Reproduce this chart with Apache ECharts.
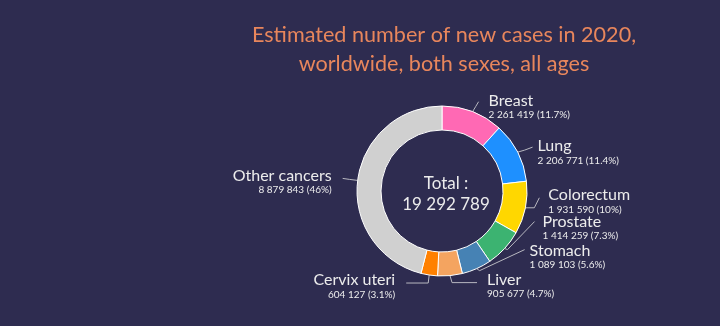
<!DOCTYPE html>
<html>
<head>
<meta charset="utf-8">
<script src="https://cdn.jsdelivr.net/npm/echarts@6/dist/echarts.min.js"></script>
<style>
  html, body { margin: 0; padding: 0; background: #2e2c50; }
  #chart { width: 720px; height: 326px; }
</style>
</head>
<body>
<div id="chart"></div>
<script>
// Estimated new cancer cases, 2020, worldwide
const categories = ['Breast', 'Lung', 'Colorectum', 'Prostate', 'Stomach', 'Liver', 'Cervix uteri', 'Other cancers'];
const cases = [2261419, 2206771, 1931590, 1414259, 1089103, 905677, 604127, 8879843];
const sliceColors = ['#ff69b4', '#1e90ff', '#ffd700', '#3cb371', '#4682b4', '#f4a460', '#ff8000', '#d0d0d0'];

// Label leader geometry, relative to the slice's outer edge point:
// [elbowDx, elbowDy, endDx, endDy, textDx, textDy]
const labelLeaders = [
  [3, -5, 6, -10, 10, -1],
  [7, -2, 15, -5, 5, -1],
  [9, 0, 14, -10, 9, -3],
  [3, 1, 30, -27, 8, 0],
  [3, 2, 48, -19, 5, 1],
  [2, 7, 27, 7, 10, -3],
  [-1, 8, -23, 8, -11, -3],
  [-8, -1, -15, -2, -11, -3]
];

const total = cases.reduce((a, b) => a + b, 0);
const fmt = n => String(n).replace(/\B(?=(\d{3})+(?!\d))/g, ' ');
const pct = n => String(parseFloat((n / total * 100).toFixed(1)));

const chart = echarts.init(document.getElementById('chart'), null, { renderer: 'canvas' });
const FONT = 'Lato, "Open Sans", sans-serif';

chart.setOption({
  backgroundColor: '#2e2c50',
  animation: false,
  title: [
    {
      text: 'Estimated number of new cases in 2020,\nworldwide, both sexes, all ages',
      left: 439,
      top: 16,
      textAlign: 'center',
      textStyle: {
        color: '#e8865c',
        fontFamily: FONT,
        fontWeight: 'normal',
        fontSize: 21.6,
        lineHeight: 29
      }
    },
    {
      text: 'Total :\n' + fmt(total),
      left: 441,
      top: 168,
      textAlign: 'center',
      textStyle: {
        color: '#ececec',
        fontFamily: FONT,
        fontWeight: 'normal',
        fontSize: 17,
        lineHeight: 21
      }
    }
  ],
  series: [{
    type: 'pie',
    center: [442, 191],
    radius: [61, 85],
    startAngle: 90,
    clockwise: true,
    avoidLabelOverlap: false,
    itemStyle: { borderColor: '#ffffff', borderWidth: 1 },
    label: {
      show: true,
      position: 'outside',
      fontFamily: FONT,
      formatter: p => '{n|' + p.name + '}\n{v|' + fmt(p.value) + ' (' + pct(p.value) + '%)}',
      rich: {
        n: { fontFamily: FONT, fontSize: 16, lineHeight: 16, color: '#ececec' },
        v: { fontFamily: FONT, fontSize: 10, lineHeight: 13, color: '#ececec' }
      }
    },
    labelLine: {
      show: true,
      length: 8,
      length2: 8,
      lineStyle: { color: '#b8b8c0', width: 1 }
    },
    labelLayout: function (params) {
      const pts = params.labelLinePoints;
      const g = labelLeaders[params.dataIndex];
      if (!pts || !g) return {};
      const p0 = pts[0];
      const elbow = [p0[0] + g[0], p0[1] + g[1]];
      const end = [p0[0] + g[2], p0[1] + g[3]];
      const right = g[4] > 0;
      return {
        x: end[0] + g[4],
        y: end[1] + g[5] - 8,
        align: right ? 'left' : 'right',
        verticalAlign: 'top',
        labelLinePoints: [p0, elbow, end]
      };
    },
    data: categories.map((name, i) => ({
      name: name,
      value: cases[i],
      itemStyle: { color: sliceColors[i] },
      label: { rich: {
        n: { align: labelLeaders[i][4] > 0 ? 'left' : 'right' },
        v: { align: labelLeaders[i][4] > 0 ? 'left' : 'right' }
      } }
    }))
  }]
});
</script>
</body>
</html>
